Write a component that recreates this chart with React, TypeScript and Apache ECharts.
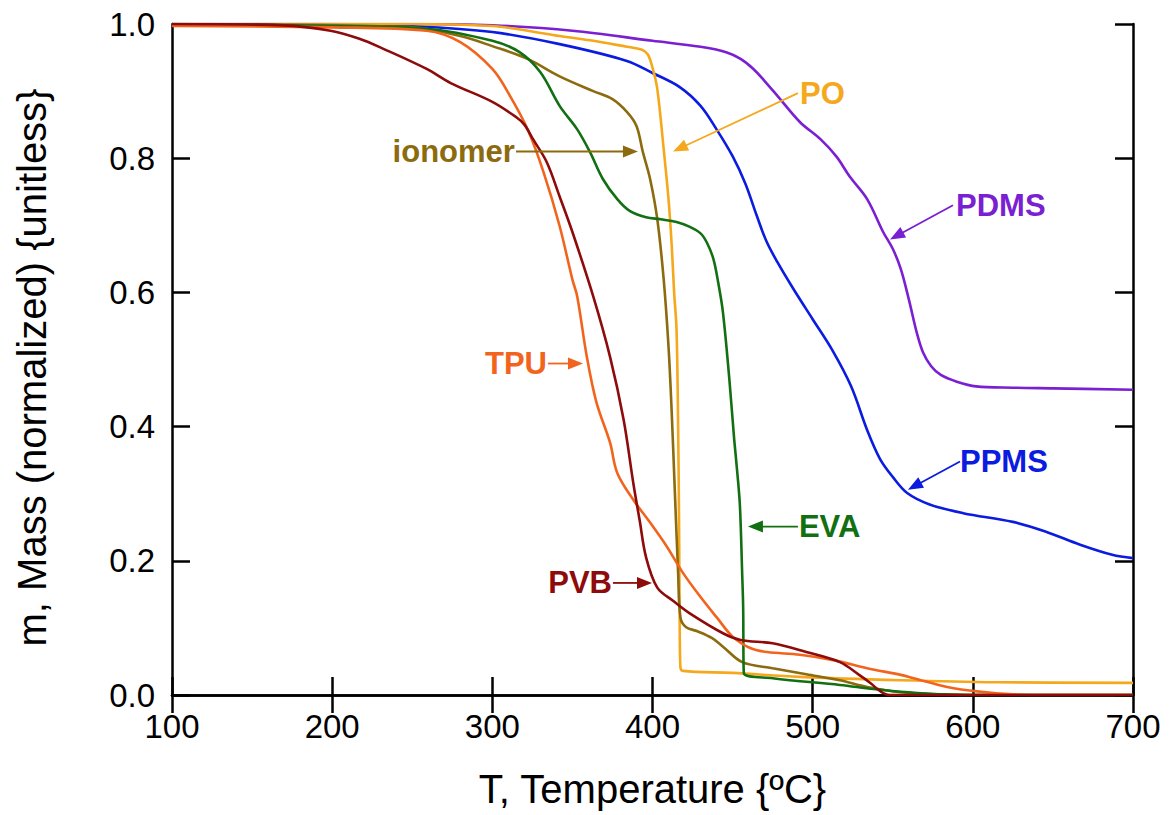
import React, { useEffect, useRef } from "react";
import * as echarts from "echarts";

// ---- data (T in °C, m normalized) ----
const pdms: [number, number][] = [
  [100, 1.0], [200, 1.0], [250, 1.0], [300, 0.998], [350, 0.99], [400, 0.975], [430, 0.966],
  [446, 0.958], [455, 0.948], [463, 0.933], [470, 0.915], [478, 0.893], [492, 0.854], [505, 0.828],
  [515, 0.802], [523, 0.773], [534, 0.739], [544, 0.69], [550, 0.665], [555, 0.635], [560, 0.59],
  [565, 0.54], [569, 0.51], [574, 0.49], [580, 0.477], [590, 0.467], [602, 0.46], [625, 0.458],
  [650, 0.457], [700, 0.455],
];
const ppms: [number, number][] = [
  [100, 1.0], [200, 1.0], [249, 0.997], [300, 0.988], [342, 0.97], [384, 0.945], [400, 0.927],
  [417, 0.906], [430, 0.878], [440, 0.843], [450, 0.803], [458, 0.762], [465, 0.715], [471, 0.677],
  [478, 0.645], [488, 0.605], [500, 0.56], [512, 0.515], [524, 0.46], [534, 0.395], [542, 0.352],
  [550, 0.325], [559, 0.301], [573, 0.284], [594, 0.271], [625, 0.258], [646, 0.243], [667, 0.224],
  [687, 0.209], [700, 0.204],
];
const po: [number, number][] = [
  [100, 1.0], [250, 1.0], [300, 0.997], [322, 0.99], [342, 0.982], [363, 0.975], [384, 0.966],
  [393, 0.962], [397, 0.955], [400, 0.935], [403, 0.903], [407, 0.813], [410, 0.739], [412, 0.67],
  [413.5, 0.6], [415, 0.545], [416, 0.4], [416.6, 0.25], [417, 0.1], [417.4, 0.042], [419, 0.036],
  [450, 0.033], [492, 0.027], [555, 0.022], [615, 0.019], [700, 0.018],
];
const ionomer: [number, number][] = [
  [100, 1.0], [250, 0.995], [280, 0.982], [300, 0.967], [322, 0.948], [342, 0.922], [363, 0.9],
  [375, 0.888], [384, 0.869], [390, 0.848], [394, 0.809], [398.5, 0.769], [403, 0.709], [407, 0.619],
  [410, 0.519], [412, 0.421], [414, 0.3], [416, 0.182], [417.5, 0.115], [421, 0.101], [428, 0.095],
  [437, 0.085], [444, 0.072], [456, 0.049], [475, 0.04], [496, 0.031], [517, 0.022], [534, 0.012],
  [555, 0.004], [580, 0.001], [600, 0], [700, 0],
];
const eva: [number, number][] = [
  [100, 1.0], [200, 0.997], [259, 0.993], [300, 0.975], [317, 0.958], [330, 0.928], [342, 0.878],
  [353, 0.843], [361, 0.809], [369, 0.769], [378, 0.739], [386, 0.721], [396, 0.712], [405, 0.709],
  [415, 0.705], [423, 0.698], [430, 0.688], [434, 0.674], [438, 0.65], [441, 0.615], [444, 0.57],
  [448, 0.47], [451, 0.381], [453, 0.33], [454.6, 0.281], [456, 0.18], [456.6, 0.131], [457, 0.033],
  [475, 0.025], [517, 0.015], [538, 0.009], [560, 0.004], [580, 0.001], [600, 0], [700, 0],
];
const tpu: [number, number][] = [
  [100, 0.997], [200, 0.995], [259, 0.99], [280, 0.973], [300, 0.933], [311, 0.893], [322, 0.843],
  [332, 0.779], [342, 0.699], [350, 0.619], [353, 0.594], [359, 0.504], [365, 0.436], [373.5, 0.376],
  [378, 0.331], [388, 0.291], [398.5, 0.257], [409, 0.221], [419, 0.182], [430, 0.146], [440, 0.116],
  [450, 0.087], [461, 0.07], [471.5, 0.064], [492, 0.06], [513, 0.052], [534, 0.04], [555, 0.03],
  [563, 0.025], [584, 0.012], [604, 0.005], [625, 0.001], [650, 0], [700, 0],
];
const pvb: [number, number][] = [
  [100, 1.0], [169, 0.998], [199, 0.99], [217, 0.978], [232, 0.963], [259, 0.933], [274, 0.912],
  [300, 0.884], [315, 0.861], [320, 0.85], [325.5, 0.828], [334, 0.794], [342, 0.743], [350, 0.69],
  [363, 0.594], [373.5, 0.504], [382, 0.41], [388, 0.316], [392, 0.26], [396, 0.205], [403, 0.16],
  [413, 0.14], [423, 0.122], [444, 0.092], [455, 0.082], [475, 0.077], [496, 0.064], [517, 0.049],
  [529, 0.03], [536, 0.018], [542, 0.006], [548, 0], [700, 0],
];

const seriesNames = ["PDMS", "PPMS", "PO", "ionomer", "EVA", "TPU", "PVB"];
const seriesColors = ["#7a1fd2", "#0b1be0", "#f5a81c", "#8c6a0e", "#127012", "#f2641e", "#8e0b0b"];
const seriesData = [pdms, ppms, po, ionomer, eva, tpu, pvb];

// annotations: label text anchor, arrow tail and tip in data coords
const annotLabels = ["PO", "ionomer", "PDMS", "PPMS", "EVA", "TPU", "PVB"];
const annotColors = ["#f5a81c", "#8c6a0e", "#7a1fd2", "#0b1be0", "#127012", "#f2641e", "#8e0b0b"];
const annotAlign = ["left", "right", "left", "left", "left", "right", "right"];
const annotText: [number, number][] = [
  [492.1, 0.896], [314.1, 0.81], [589.5, 0.73], [592, 0.348], [491.4, 0.251], [334.1, 0.494], [374.7, 0.167],
];
const annotTail: [number, number][] = [
  [490.8, 0.897], [314.8, 0.81], [587.6, 0.73], [592, 0.348], [490.8, 0.251], [334.7, 0.494], [375.3, 0.167],
];
const annotTip: [number, number][] = [
  [412.8, 0.81], [390.9, 0.81], [548.3, 0.679], [559.5, 0.306], [459.6, 0.251], [356.6, 0.494], [399.7, 0.167],
];

const xMin = 100, xMax = 700, xStep = 100;
const yMin = 0, yMax = 1, yStep = 0.2;

const font = "'Liberation Sans', Arial, sans-serif";

export default function App() {
  const ref = useRef<HTMLDivElement>(null);
  useEffect(() => {
    const chart = echarts.init(ref.current!, null, { renderer: "svg" });
    const axisLine = { show: true, lineStyle: { color: "#000", width: 2.5 } };
    const tick = { show: true, inside: true, length: 18, lineStyle: { color: "#000", width: 2.5 } };
    chart.setOption({
      animation: false,
      backgroundColor: "#fff",
      grid: { left: 172, right: 36, top: 24, bottom: 120, containLabel: false },
      xAxis: [
        {
          type: "value", min: xMin, max: xMax, interval: xStep, position: "bottom",
          axisLine, axisTick: tick, splitLine: { show: false },
          axisLabel: { fontFamily: font, fontSize: 33, color: "#000", margin: 15 },
          name: "T, Temperature {ºC}", nameLocation: "middle", nameGap: 74,
          nameTextStyle: { fontFamily: font, fontSize: 40, color: "#000" },
        },
        {
          type: "value", min: xMin, max: xMax, interval: xStep, position: "top",
          axisLine, axisTick: tick, axisLabel: { show: false }, splitLine: { show: false },
        },
      ],
      yAxis: [
        {
          type: "value", min: yMin, max: yMax, interval: yStep, position: "left",
          axisLine, axisTick: tick, splitLine: { show: false },
          axisLabel: {
            fontFamily: font, fontSize: 33, color: "#000", margin: 17,
            formatter: (v: number) => v.toFixed(1),
          },
          name: "m, Mass (normalized) {unitless}", nameLocation: "middle", nameGap: 120,
          nameTextStyle: { fontFamily: font, fontSize: 40, color: "#000", padding: [0, 16, 0, 0] },
        },
        {
          type: "value", min: yMin, max: yMax, interval: yStep, position: "right",
          axisLine, axisTick: tick, axisLabel: { show: false }, splitLine: { show: false },
        },
      ],
      series: seriesData.map((d, i) => ({
        name: seriesNames[i],
        type: "line",
        data: d,
        xAxisIndex: 0,
        yAxisIndex: 0,
        showSymbol: false,
        smooth: 0.35,
        lineStyle: { color: seriesColors[i], width: 2.6 },
        itemStyle: { color: seriesColors[i] },
      })),
    });

    const graphics: any[] = [];
    annotLabels.forEach((label, i) => {
      const tp = chart.convertToPixel({ xAxisIndex: 0, yAxisIndex: 0 }, annotText[i]) as number[];
      const ta = chart.convertToPixel({ xAxisIndex: 0, yAxisIndex: 0 }, annotTail[i]) as number[];
      const tt = chart.convertToPixel({ xAxisIndex: 0, yAxisIndex: 0 }, annotTip[i]) as number[];
      const dx = tt[0] - ta[0], dy = tt[1] - ta[1];
      const len = Math.sqrt(dx * dx + dy * dy) || 1;
      const ux = dx / len, uy = dy / len;
      const L = 15, W = 6;
      const bx = tt[0] - ux * L, by = tt[1] - uy * L;
      graphics.push({
        type: "line", z: 100,
        shape: { x1: ta[0], y1: ta[1], x2: bx + ux * 2, y2: by + uy * 2 },
        style: { stroke: annotColors[i], lineWidth: 1.8 },
      });
      graphics.push({
        type: "polygon", z: 100,
        shape: { points: [[tt[0], tt[1]], [bx - uy * W, by + ux * W], [bx + uy * W, by - ux * W]] },
        style: { fill: annotColors[i] },
      });
      graphics.push({
        type: "text", z: 100, x: tp[0], y: tp[1],
        style: {
          text: label, fill: annotColors[i], fontFamily: font, fontWeight: "bold", fontSize: 31,
          align: annotAlign[i], verticalAlign: "middle",
        },
      });
    });
    chart.setOption({ graphic: graphics });
    return () => chart.dispose();
  }, []);
  return <div ref={ref} style={{ position: "fixed", left: 0, top: 0, width: 1169, height: 815 }} />;
}
